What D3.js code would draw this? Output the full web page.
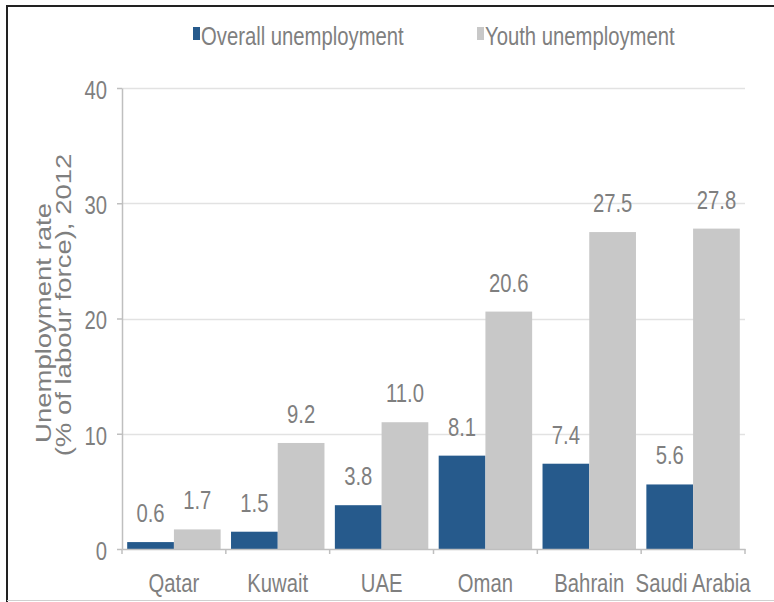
<!DOCTYPE html>
<html>
<head>
<meta charset="utf-8">
<script src="https://cdn.jsdelivr.net/npm/d3@7"></script>
<style>
  body { margin: 0; background: #fff; }
  text { font-family: Arial, "Liberation Sans", sans-serif; fill: #7f7f7f; }
</style>
</head>
<body>
<div id="chart"></div>
<script>
// chart data
var countries = ["Qatar", "Kuwait", "UAE", "Oman", "Bahrain", "Saudi Arabia"];
var overall = [0.6, 1.5, 3.8, 8.1, 7.4, 5.6];
var youth = [1.7, 9.2, 11.0, 20.6, 27.5, 27.8];
var seriesNames = ["Overall unemployment", "Youth unemployment"];
var seriesColors = ["#265a8c", "#c8c8c8"];
var yTicks = [0, 10, 20, 30, 40];

var svgWidth = 774;
var svgHeight = 602;

// the picture is squeezed sideways, so text is too
var squeeze = 0.78;
var fontSize = "26px";

var plot = { left: 122, right: 745, top: 88, bottom: 549 };

var svg = d3.select("#chart")
    .append("svg")
    .attr("width", svgWidth)
    .attr("height", svgHeight);

// frame
svg.append("line").attr("x1", 6).attr("x2", svgWidth).attr("y1", 6).attr("y2", 6)
    .attr("stroke", "#222").attr("stroke-width", 2);
svg.append("line").attr("x1", 7).attr("x2", 7).attr("y1", 6).attr("y2", svgHeight)
    .attr("stroke", "#222").attr("stroke-width", 2);
svg.append("line").attr("x1", 7).attr("x2", svgWidth).attr("y1", 600.5).attr("y2", 600.5)
    .attr("stroke", "#d0d0d0").attr("stroke-width", 1);

var xScale = d3.scaleBand()
    .domain(countries)
    .range([plot.left, plot.right])
    .paddingInner(0.1)
    .paddingOuter(0.05);

var xInner = d3.scaleBand()
    .domain(seriesNames)
    .range([0, xScale.bandwidth()]);

var yScale = d3.scaleLinear()
    .domain([0, 40])
    .range([plot.bottom, plot.top]);

// gridlines
svg.append("g")
    .selectAll("line")
    .data(yTicks.filter(d => d > 0))
    .enter()
    .append("line")
    .attr("x1", plot.left)
    .attr("x2", plot.right)
    .attr("y1", d => Math.round(yScale(d)) + 0.5)
    .attr("y2", d => Math.round(yScale(d)) + 0.5)
    .attr("stroke", "#e2e2e2")
    .attr("stroke-width", 1.5);

// y axis
var yAxis = d3.axisLeft(yScale).tickValues(yTicks).tickSize(5).tickSizeOuter(0);
var yAxisG = svg.append("g")
    .attr("transform", `translate(${plot.left},0)`)
    .call(yAxis);
yAxisG.select(".domain").attr("stroke", "#bfbfbf").attr("stroke-width", 1.5);
yAxisG.selectAll(".tick line").attr("stroke", "#bfbfbf").attr("stroke-width", 1.5);
yAxisG.selectAll(".tick text")
    .attr("x", -15 / squeeze)
    .attr("dy", "0.4em")
    .attr("transform", `scale(${squeeze},1)`)
    .style("font-size", fontSize)
    .style("font-family", "Arial, 'Liberation Sans', sans-serif")
    .attr("fill", "#7f7f7f");

// bars
var rows = countries.map(function (c, i) {
    return { country: c, values: [overall[i], youth[i]] };
});

var groups = svg.append("g")
    .selectAll("g")
    .data(rows)
    .enter()
    .append("g")
    .attr("transform", d => `translate(${xScale(d.country)},0)`);

groups.selectAll("rect")
    .data(d => d.values.map((v, j) => ({ name: seriesNames[j], value: v, color: seriesColors[j] })))
    .enter()
    .append("rect")
    .attr("x", d => xInner(d.name))
    .attr("width", xInner.bandwidth())
    .attr("y", d => yScale(d.value))
    .attr("height", d => yScale(0) - yScale(d.value))
    .attr("fill", d => d.color);

groups.selectAll("text")
    .data(d => d.values.map((v, j) => ({ name: seriesNames[j], value: v })))
    .enter()
    .append("text")
    .attr("transform", d => `translate(${xInner(d.name) + xInner.bandwidth() / 2},${yScale(d.value) - 20}) scale(${squeeze},1)`)
    .attr("text-anchor", "middle")
    .style("font-size", fontSize)
    .text(d => d.value.toFixed(1));

// x axis
var xAxis = d3.axisBottom(xScale).tickSize(0).tickSizeOuter(0);
var xAxisG = svg.append("g")
    .attr("transform", `translate(0,${plot.bottom})`)
    .call(xAxis);
xAxisG.select(".domain").attr("stroke", "#bfbfbf").attr("stroke-width", 1.5);
xAxisG.selectAll(".tick text")
    .attr("y", 43)
    .attr("dy", 0)
    .attr("transform", `scale(${squeeze},1)`)
    .style("font-size", fontSize)
    .style("font-family", "Arial, 'Liberation Sans', sans-serif")
    .attr("fill", "#7f7f7f");

// category boundary ticks
var half = xScale.step() * xScale.paddingInner() / 2;
var bounds = countries.map(c => xScale(c) - half).concat([plot.right]);
xAxisG.selectAll(".bound")
    .data(bounds)
    .enter()
    .append("line")
    .attr("class", "bound")
    .attr("x1", d => d)
    .attr("x2", d => d)
    .attr("y1", 0)
    .attr("y2", 5)
    .attr("stroke", "#bfbfbf")
    .attr("stroke-width", 1.5);

// y axis title, two lines
var titleLines = ["Unemployment rate", "(% of labour force), 2012"];
var titleX = [51, 71];
var titleY = [323, 305];
svg.append("g")
    .selectAll("text")
    .data(titleLines)
    .enter()
    .append("text")
    .attr("transform", (d, i) => `translate(${titleX[i]},${titleY[i]}) scale(${squeeze},1) rotate(-90)`)
    .attr("text-anchor", "middle")
    .style("font-size", "27.5px")
    .text(d => d);

// legend
var legendX = [193, 477];
var legend = svg.append("g")
    .selectAll("g")
    .data(seriesNames)
    .enter()
    .append("g")
    .attr("transform", (d, i) => `translate(${legendX[i]},0)`);

legend.append("rect")
    .attr("x", 0)
    .attr("y", 27)
    .attr("width", 7)
    .attr("height", 13)
    .attr("fill", (d, i) => seriesColors[i]);

legend.append("text")
    .attr("transform", `translate(8,45) scale(${squeeze},1)`)
    .style("font-size", fontSize)
    .text(d => d);
</script>
</body>
</html>
